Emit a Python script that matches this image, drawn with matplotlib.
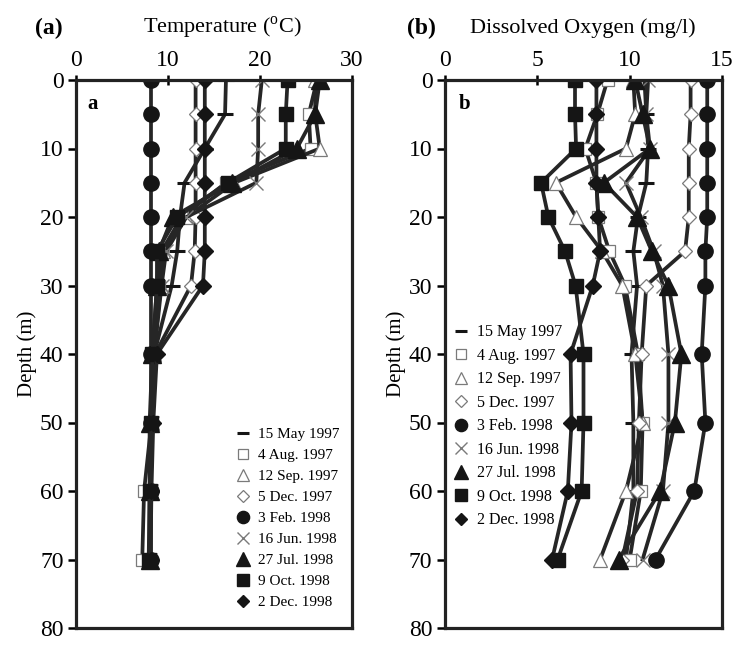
import matplotlib
matplotlib.use("Agg")
import matplotlib.pyplot as plt
from matplotlib.lines import Line2D

plt.rcParams['font.family'] = ['Liberation Serif', 'DejaVu Serif']
plt.rcParams['mathtext.fontset'] = 'custom'
plt.rcParams['mathtext.rm'] = 'Liberation Serif'

depth = [0, 5, 10, 15, 20, 25, 30, 40, 50, 60, 70]
labels = ['15 May 1997', '4 Aug. 1997', '12 Sep. 1997', '5 Dec. 1997', '3 Feb. 1998',
          '16 Jun. 1998', '27 Jul. 1998', '9 Oct. 1998', '2 Dec. 1998']

# Temperature (deg C)
temp_may97 = [16.3, 16.2, 14.0, 11.8, 11.3, 11.0, 10.4, 8.5, 8.3, 8.1, 8.0]
temp_aug97 = [26.2, 25.3, 25.5, 16.3, 11.5, 9.3, 9.0, 8.3, 8.2, 7.4, 7.2]
temp_sep97 = [26.0, 26.0, 26.5, 17.2, 12.0, 9.5, 9.2, 8.5, 8.3, 8.1, 8.0]
temp_dec97 = [13.0, 13.0, 13.0, 13.0, 13.0, 12.9, 12.5, 8.6, 8.3, 8.1, 8.0]
temp_feb98 = [8.1, 8.1, 8.1, 8.1, 8.1, 8.1, 8.1, 8.1, 8.1, 8.1, 8.1]
temp_jun98 = [20.2, 19.8, 19.8, 19.6, 12.0, 9.8, 9.3, 8.5, 8.3, 8.1, 8.0]
temp_jul98 = [26.5, 26.0, 24.0, 17.0, 10.5, 9.0, 8.8, 8.3, 8.0, 8.0, 8.0]
temp_oct98 = [23.0, 22.8, 22.8, 16.5, 11.0, 8.8, 8.8, 8.3, 8.2, 8.0, 7.9]
temp_dec98 = [14.0, 14.0, 14.0, 14.0, 14.0, 14.0, 13.8, 8.8, 8.4, 8.2, 8.1]

# Dissolved oxygen (mg/l)
do_may97 = [10.8, 10.9, 11.0, 10.9, 10.45, 10.2, 10.4, 10.1, 10.2, 10.2, 9.8]
do_aug97 = [8.8, 8.25, 7.6, 8.2, 8.3, 8.9, 9.75, 10.45, 10.7, 10.6, 10.0]
do_sep97 = [10.2, 10.3, 9.8, 6.0, 7.1, 8.5, 9.6, 10.3, 10.7, 9.8, 8.4]
do_dec97 = [13.3, 13.3, 13.2, 13.2, 13.2, 13.0, 10.9, 10.65, 10.5, 10.4, 9.6]
do_feb98 = [14.2, 14.2, 14.2, 14.2, 14.2, 14.1, 14.1, 13.9, 14.1, 13.5, 11.4]
do_jun98 = [11.0, 10.9, 11.1, 9.8, 10.6, 11.3, 11.8, 12.1, 12.1, 11.8, 10.7]
do_jul98 = [10.3, 10.7, 11.1, 8.6, 10.4, 11.2, 12.1, 12.8, 12.45, 11.65, 9.4]
do_oct98 = [7.04, 7.04, 7.1, 5.2, 5.6, 6.5, 7.07, 7.5, 7.5, 7.4, 6.1]
do_dec98 = [8.2, 8.2, 8.2, 8.2, 8.3, 8.4, 8.0, 6.8, 6.85, 6.65, 5.8]

temp_series = [temp_may97, temp_aug97, temp_sep97, temp_dec97, temp_feb98,
               temp_jun98, temp_jul98, temp_oct98, temp_dec98]
do_series = [do_may97, do_aug97, do_sep97, do_dec97, do_feb98,
             do_jun98, do_jul98, do_oct98, do_dec98]

LINE = '#262626'
DARK = '#151515'
OPEN = '#7a7a7a'
styles = [
    dict(marker='_', ms=11, mfc=DARK, mec=DARK, mew=2.2),
    dict(marker='s', ms=9, mfc='white', mec=OPEN, mew=0.9),
    dict(marker='^', ms=10, mfc='white', mec=OPEN, mew=0.9),
    dict(marker='D', ms=7.5, mfc='white', mec=OPEN, mew=0.9),
    dict(marker='o', ms=11, mfc=DARK, mec=DARK, mew=1),
    dict(marker='x', ms=10, mfc=OPEN, mec=OPEN, mew=1.0),
    dict(marker='^', ms=13, mfc=DARK, mec=DARK, mew=1),
    dict(marker='s', ms=10, mfc=DARK, mec=DARK, mew=1),
    dict(marker='D', ms=8, mfc=DARK, mec=DARK, mew=1),
]

fig = plt.figure(figsize=(7.38, 6.45), dpi=100)
axa = fig.add_axes([76/738, 1-628/645, 276/738, 548/645])
axb = fig.add_axes([445/738, 1-628/645, 277/738, 548/645])


def style_axis(ax, xmax, xticks):
    ax.set_xlim(0, xmax)
    ax.set_ylim(80, 0)
    ax.xaxis.set_ticks_position('top')
    ax.xaxis.set_label_position('top')
    ax.set_xticks(xticks)
    ax.set_yticks(range(0, 81, 10))
    ax.tick_params(axis='x', direction='inout', length=7, width=1.8, labelsize=17, pad=3)
    ax.tick_params(axis='y', direction='out', length=6, width=1.8, labelsize=17, pad=3)
    for s in ax.spines.values():
        s.set_linewidth(2.3)
        s.set_color('#222222')


for vals, lab, st in zip(temp_series, labels, styles):
    axa.plot(vals, depth, '-', color=LINE, lw=2.7, label=lab, **st)
for vals, lab, st in zip(do_series, labels, styles):
    axb.plot(vals, depth, '-', color=LINE, lw=2.7, label=lab, **st)

style_axis(axa, 30, [0, 10, 20, 30])
style_axis(axb, 15, [0, 5, 10, 15])
axa.set_ylabel('Depth (m)', fontsize=15, labelpad=2)
axb.set_ylabel('Depth (m)', fontsize=15, labelpad=2)

axa.text(0.04, 0.975, 'a', transform=axa.transAxes, fontsize=15, fontweight='bold', va='top')
axb.text(0.05, 0.975, 'b', transform=axb.transAxes, fontsize=15, fontweight='bold', va='top')

fig.text(49/738, 1-28/645, '(a)', fontsize=17, fontweight='bold', ha='center', va='center')
fig.text(222/738, 1-28/645, 'Temperature ($^{\\rm o}$C)', fontsize=16, ha='center', va='center')
fig.text(421/738, 1-28/645, '(b)', fontsize=17, fontweight='bold', ha='center', va='center')
fig.text(583/738, 1-28/645, 'Dissolved Oxygen (mg/l)', fontsize=16, ha='center', va='center')


def handles():
    hs = []
    for lab, st in zip(labels, styles):
        d = dict(st)
        d['ms'] = d['ms'] * 0.8
        hs.append(Line2D([], [], linestyle='none', **d))
    return hs


axa.legend(handles(), labels, loc='lower right', bbox_to_anchor=(1.0, 0.012), frameon=False,
           fontsize=11, handlelength=1.0, handletextpad=0.5, labelspacing=0.48,
           borderaxespad=0.4)
axb.legend(handles(), labels, loc='upper left', bbox_to_anchor=(-0.01, (628-313)/548), frameon=False,
           fontsize=11.5, handlelength=1.0, handletextpad=0.5, labelspacing=0.47,
           borderaxespad=0.3)

fig.savefig('out.png', dpi=100)
